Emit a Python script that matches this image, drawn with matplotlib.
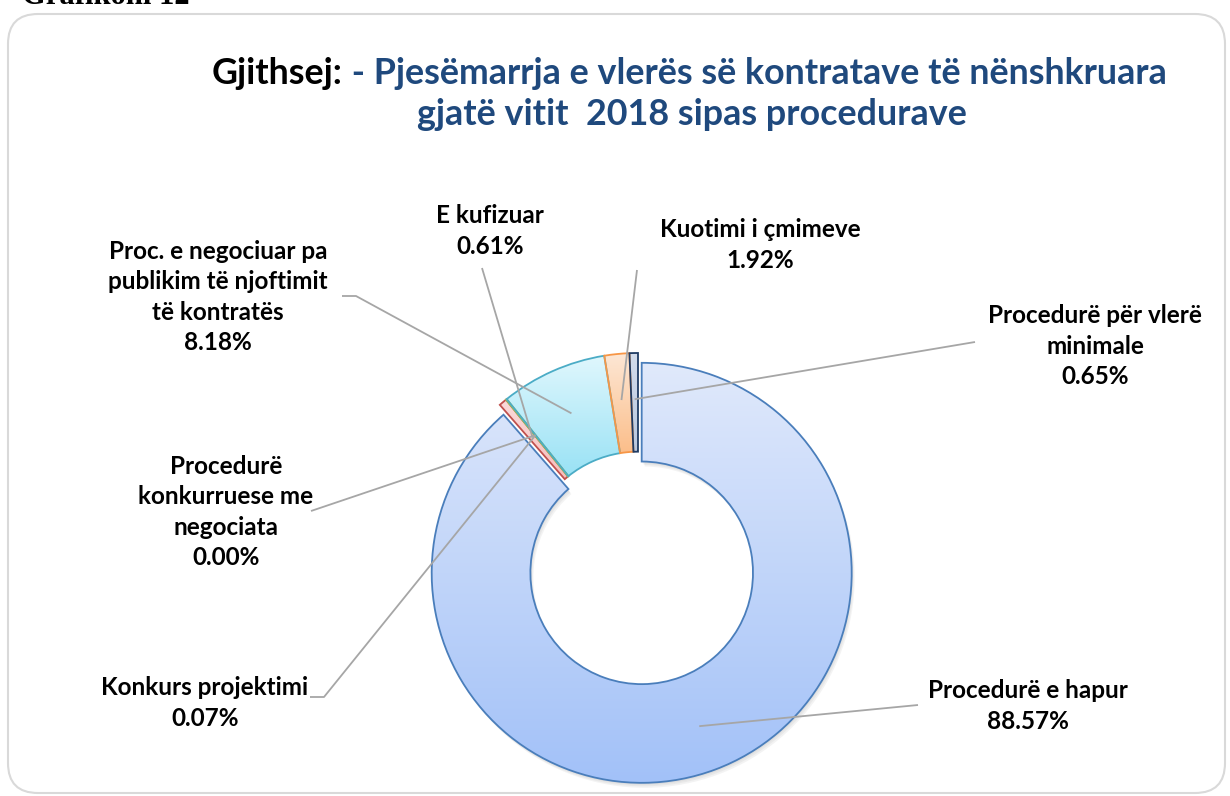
import matplotlib
matplotlib.use('Agg')
import matplotlib.pyplot as plt
import numpy as np
from matplotlib.patches import FancyBboxPatch, Wedge
from matplotlib.colors import LinearSegmentedColormap

# Të dhënat: pjesëmarrja sipas procedurave (%)
procedures = ['Procedurë e hapur', 'E kufizuar', 'Konkurs projektimi',
              'Procedurë konkurruese me negociata',
              'Proc. e negociuar pa publikim të njoftimit të kontratës',
              'Kuotimi i çmimeve', 'Procedurë për vlerë minimale']
shares = [88.57, 0.61, 0.07, 0.00, 8.18, 1.92, 0.65]
label_names = ['Procedurë e hapur', 'E kufizuar', 'Konkurs projektimi',
               'Procedurë\nkonkurruese me\nnegociata',
               'Proc. e negociuar pa\npublikim të njoftimit\ntë kontratës',
               'Kuotimi i çmimeve', 'Procedurë për vlerë\nminimale']

# ngjyrat: vija, gradient lart, gradient poshtë
edge_colors = ['#4A7EBB', '#C0504D', '#9BBB59', '#8064A2', '#4BACC6', '#F79646', '#1F3B63']
top_colors = ['#E0E9FB', '#FBDADA', '#EAF1DD', '#E5DFEC', '#E0F7FD', '#FDE7D5', '#D3DCEB']
bottom_colors = ['#A2C1F8', '#F6BDBC', '#D6E3BC', '#CCC0DA', '#99E2F5', '#FBBE8A', '#B8C7DE']

W, H = 1230, 796


def fy(y):
    # pozicion në piksel nga lart -> koordinata e boshtit
    return H - y


# pozicionet e etiketave (qendra e tekstit) dhe fillimi i vijave
label_pos = [(1028, 706), (490, 231), (205, 703), (226, 512), (218, 297), (760, 245), (1095, 346)]
line_start = [(918, 705), (482, 268), (310, 697), (311, 511), (342, 296), (637, 270), (975, 342)]
line_elbow = [None, None, (324, 697), None, (356, 296), None, None]

fig = plt.figure(figsize=(W / 100, H / 100), dpi=100)
ax = fig.add_axes([0, 0, 1, 1])

center = (638, fy(563))
R = 210
# ax.pie e shton zhvendosjen në njësi të boshtit
explode = [0.05 * R, 0, 0, 0, 0, 0, 0]
wedges, _ = ax.pie(shares, radius=R, center=center, startangle=90, counterclock=False,
                   explode=explode, wedgeprops=dict(width=R * 0.47, linewidth=1.3),
                   normalize=True)

grad = np.linspace(0, 1, 256).reshape(-1, 1)
for i, w in enumerate(wedges):
    w.set_edgecolor(edge_colors[i])
    if shares[i] <= 0:
        continue
    ext = w.get_path().get_extents()
    cmap = LinearSegmentedColormap.from_list('g%d' % i, [bottom_colors[i], top_colors[i]])
    im = ax.imshow(grad, cmap=cmap, origin='lower', aspect='auto', interpolation='bicubic',
                   extent=(ext.x0, ext.x1, ext.y0, ext.y1), zorder=1)
    im.set_clip_path(w)
    w.set_facecolor('none')
    w.set_zorder(2)

# hije e butë poshtë unazës kryesore
big = wedges[0]
for k, (dx, dy) in enumerate([(1, -2), (2, -3.5), (3, -5)]):
    sh = Wedge((big.center[0] + dx, big.center[1] + dy), big.r, big.theta1, big.theta2,
               width=big.width, fc='#808080', ec='none', alpha=0.09, zorder=0.5)
    ax.add_patch(sh)

# etiketat dhe vijat udhëzuese
font = ['Lato', 'DejaVu Sans']
for i, w in enumerate(wedges):
    mid = np.deg2rad((w.theta1 + w.theta2) / 2)
    cx, cy = w.center
    r_mid = w.r * 0.78
    end = (cx + r_mid * np.cos(mid), cy + r_mid * np.sin(mid))
    sx, sy = line_start[i]
    xs, ys = [sx], [fy(sy)]
    if line_elbow[i] is not None:
        xs.append(line_elbow[i][0])
        ys.append(fy(line_elbow[i][1]))
    xs.append(end[0])
    ys.append(end[1])
    ax.plot(xs, ys, color='#A6A6A6', lw=1.3, zorder=3, solid_capstyle='butt')

    lx, ly = label_pos[i]
    ax.text(lx, fy(ly), '%s\n%.2f%%' % (label_names[i], shares[i]), ha='center', va='center',
            fontsize=17.5, fontweight='bold', family=font, linespacing=1.38, color='black', zorder=4)

# titulli
t1 = ax.text(212, fy(84), 'Gjithsej:', ha='left', va='baseline', fontsize=25.8,
             fontweight='bold', family=font, color='black')
ax.annotate(' - Pjesëmarrja e vlerës së kontratave të nënshkruara', xy=(1, 0), xycoords=t1,
            ha='left', va='bottom', fontsize=25.8, fontweight='bold', family=font, color='#1F497D')
ax.text(692, fy(125), 'gjatë vitit  2018 sipas procedurave', ha='center', va='baseline',
        fontsize=25.8, fontweight='bold', family=font, color='#1F497D')

# "Grafikoni 12" pjesërisht jashtë kornizës (siç është në origjinal)
ax.text(22, fy(3.5), 'Grafikoni 12', ha='left', va='baseline', fontsize=22,
        fontweight='bold', family='Liberation Serif', color='black')

# korniza me kënde të rrumbullakëta
frame = FancyBboxPatch((8, fy(793)), 1217, 779, boxstyle='round,pad=0,rounding_size=30',
                       ec='#D9D9D9', fc='none', lw=1.5, zorder=0)
ax.add_patch(frame)

ax.set_xlim(0, W)
ax.set_ylim(0, H)
ax.set_aspect('equal')
ax.axis('off')

fig.savefig('out.png', dpi=100)
